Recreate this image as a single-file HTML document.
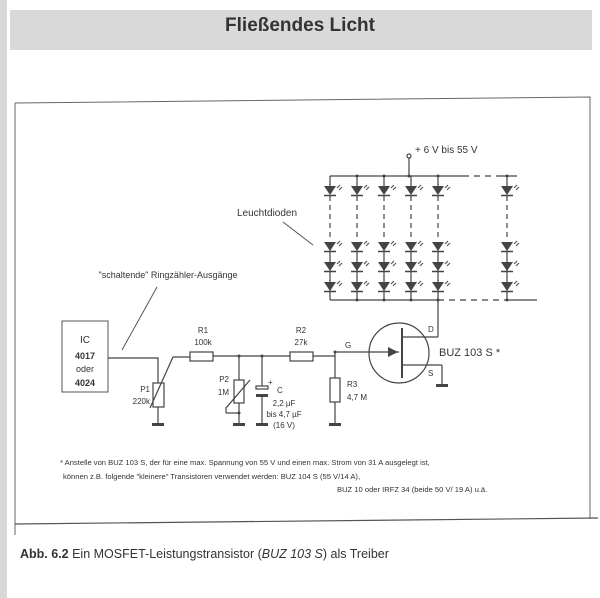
<!DOCTYPE html>
<html><head><meta charset="utf-8"><style>
html,body{margin:0;padding:0;background:#fff;}
svg{display:block;}
text{font-family:"Liberation Sans",sans-serif;fill:#333;}
</style></head><body>
<svg width="600" height="598" viewBox="0 0 600 598" xmlns="http://www.w3.org/2000/svg">
<defs>
<g id="led">
<polygon points="-6,-5 6,-5 0,4" fill="#444"/>
<line x1="-6" y1="4.5" x2="6" y2="4.5" stroke="#444" stroke-width="1.5"/>
<path d="M7,-3 L10,-6 M9,-1 L12,-4" stroke="#555" stroke-width="1.2"/>
</g>
<g id="gnd"><rect x="-6" y="0" width="12" height="3" fill="#444"/></g>
</defs>
<rect x="0" y="0" width="7" height="598" fill="#d8d8d8"/>
<rect x="10" y="10" width="582" height="40" fill="#d9d9d9"/>
<text x="300" y="31" text-anchor="middle" font-size="19" font-weight="bold" style="fill:#333">Fließendes Licht</text>
<path d="M15,103 L590,97 L590,519 M15,103 L15,535" stroke="#666" fill="none" stroke-width="1"/>
<line x1="15" y1="524" x2="598" y2="518" stroke="#555" stroke-width="1.2"/>

<g stroke="#444" stroke-width="1.2" fill="none">
<circle cx="409" cy="156" r="2" fill="#fff"/>
<line x1="409" y1="158" x2="409" y2="176"/>
<line x1="330" y1="176" x2="463" y2="176"/>
<line x1="463" y1="176" x2="500" y2="176" stroke-dasharray="6,5"/>
<line x1="500" y1="176" x2="517" y2="176"/>
<line x1="330" y1="300" x2="438" y2="300"/>
<line x1="438" y1="300" x2="505" y2="300" stroke-dasharray="6,5"/>
<line x1="505" y1="300" x2="537" y2="300"/>
</g>
<g stroke="#444" stroke-width="1.2" fill="none">
<line x1="330" y1="176" x2="330" y2="186"/><line x1="330" y1="196" x2="330" y2="240" stroke-dasharray="5,4"/><line x1="330" y1="250" x2="330" y2="300"/>
<line x1="357" y1="176" x2="357" y2="186"/><line x1="357" y1="196" x2="357" y2="240" stroke-dasharray="5,4"/><line x1="357" y1="250" x2="357" y2="300"/>
<line x1="384" y1="176" x2="384" y2="186"/><line x1="384" y1="196" x2="384" y2="240" stroke-dasharray="5,4"/><line x1="384" y1="250" x2="384" y2="300"/>
<line x1="411" y1="176" x2="411" y2="186"/><line x1="411" y1="196" x2="411" y2="240" stroke-dasharray="5,4"/><line x1="411" y1="250" x2="411" y2="300"/>
<line x1="438" y1="176" x2="438" y2="186"/><line x1="438" y1="196" x2="438" y2="240" stroke-dasharray="5,4"/><line x1="438" y1="250" x2="438" y2="300"/>
<line x1="507" y1="176" x2="507" y2="186"/><line x1="507" y1="196" x2="507" y2="240" stroke-dasharray="5,4"/><line x1="507" y1="250" x2="507" y2="300"/>
</g>
<g>
<use href="#led" x="330" y="191"/><use href="#led" x="357" y="191"/><use href="#led" x="384" y="191"/><use href="#led" x="411" y="191"/><use href="#led" x="438" y="191"/><use href="#led" x="507" y="191"/>
<use href="#led" x="330" y="247"/><use href="#led" x="357" y="247"/><use href="#led" x="384" y="247"/><use href="#led" x="411" y="247"/><use href="#led" x="438" y="247"/><use href="#led" x="507" y="247"/>
<use href="#led" x="330" y="267"/><use href="#led" x="357" y="267"/><use href="#led" x="384" y="267"/><use href="#led" x="411" y="267"/><use href="#led" x="438" y="267"/><use href="#led" x="507" y="267"/>
<use href="#led" x="330" y="287"/><use href="#led" x="357" y="287"/><use href="#led" x="384" y="287"/><use href="#led" x="411" y="287"/><use href="#led" x="438" y="287"/><use href="#led" x="507" y="287"/>
</g>
<g fill="#444">
<circle cx="357" cy="176" r="1.5"/><circle cx="384" cy="176" r="1.5"/><circle cx="409" cy="176" r="1.5"/><circle cx="438" cy="176" r="1.5"/><circle cx="507" cy="176" r="1.5"/>
<circle cx="357" cy="300" r="1.5"/><circle cx="384" cy="300" r="1.5"/><circle cx="411" cy="300" r="1.5"/><circle cx="438" cy="300" r="1.5"/><circle cx="507" cy="300" r="1.5"/>
</g>
<text x="415" y="153" font-size="10">+ 6 V bis 55 V</text>
<text x="237" y="216" font-size="10">Leuchtdioden</text>
<line x1="283" y1="222" x2="313" y2="245" stroke="#555"/>

<g stroke="#444" stroke-width="1.2" fill="none">
<circle cx="399" cy="353" r="30"/>
<line x1="438" y1="300" x2="438" y2="337"/>
<line x1="438" y1="337" x2="402" y2="337"/>
<line x1="402" y1="328" x2="402" y2="378" stroke-width="2"/>
<line x1="402" y1="365" x2="442" y2="365"/>
<line x1="442" y1="365" x2="442" y2="384"/>
<line x1="335" y1="352" x2="399" y2="352"/>
</g>
<polygon points="388,347 398,352 388,357" fill="#444"/>
<use href="#gnd" x="442" y="384"/>
<text x="345" y="348" font-size="8">G</text>
<text x="428" y="332" font-size="8">D</text>
<text x="428" y="376" font-size="8">S</text>
<text x="439" y="356" font-size="11">BUZ 103 S *</text>

<text x="168" y="278" text-anchor="middle" font-size="9">"schaltende" Ringzähler-Ausgänge</text>
<line x1="157" y1="287" x2="122" y2="350" stroke="#555"/>
<rect x="62" y="321" width="46" height="71" fill="none" stroke="#555"/>
<text x="85" y="343" text-anchor="middle" font-size="10">IC</text>
<text x="85" y="359" text-anchor="middle" font-size="9" font-weight="bold">4017</text>
<text x="85" y="372" text-anchor="middle" font-size="9">oder</text>
<text x="85" y="386" text-anchor="middle" font-size="9" font-weight="bold">4024</text>

<g stroke="#444" stroke-width="1.2" fill="none">
<path d="M108,358 L158,358 L158,383"/>
<rect x="153" y="383" width="11" height="24"/>
<line x1="158" y1="407" x2="158" y2="423"/>
<path d="M150,408 L173,357 L190,357"/>
<rect x="190" y="352" width="23" height="9"/>
<line x1="213" y1="356" x2="290" y2="356"/>
<rect x="290" y="352" width="23" height="9"/>
<line x1="313" y1="356" x2="335" y2="356"/>
<line x1="335" y1="352" x2="335" y2="378"/>
<rect x="330" y="378" width="10" height="24"/>
<line x1="335" y1="402" x2="335" y2="423"/>
<line x1="239" y1="356" x2="239" y2="380"/>
<rect x="234" y="380" width="10" height="23"/>
<line x1="239" y1="403" x2="239" y2="423"/>
<path d="M226,413 L226,408 L250,380"/>
<line x1="226" y1="413" x2="239" y2="413"/>
<line x1="262" y1="356" x2="262" y2="386"/>
<rect x="256" y="386" width="12" height="3"/>
<line x1="262" y1="396" x2="262" y2="423"/>
</g>
<rect x="256" y="394" width="12" height="3" fill="#444"/>
<g fill="#444">
<circle cx="239" cy="356" r="1.5"/><circle cx="262" cy="356" r="1.5"/><circle cx="335" cy="352" r="1.5"/><circle cx="239" cy="413" r="1.5"/>
</g>
<use href="#gnd" x="158" y="423"/><use href="#gnd" x="239" y="423"/><use href="#gnd" x="262" y="423"/><use href="#gnd" x="335" y="423"/>

<text x="203" y="333" text-anchor="middle" font-size="8">R1</text>
<text x="203" y="345" text-anchor="middle" font-size="8">100k</text>
<text x="301" y="333" text-anchor="middle" font-size="8">R2</text>
<text x="301" y="345" text-anchor="middle" font-size="8">27k</text>
<text x="150" y="392" text-anchor="end" font-size="8">P1</text>
<text x="150" y="404" text-anchor="end" font-size="8">220k</text>
<text x="229" y="382" text-anchor="end" font-size="8">P2</text>
<text x="229" y="395" text-anchor="end" font-size="8">1M</text>
<text x="268" y="385" font-size="8">+</text>
<text x="277" y="393" font-size="8">C</text>
<text x="284" y="406" text-anchor="middle" font-size="8">2,2 µF</text>
<text x="284" y="417" text-anchor="middle" font-size="8">bis 4,7 µF</text>
<text x="284" y="428" text-anchor="middle" font-size="8">(16 V)</text>
<text x="347" y="387" font-size="8">R3</text>
<text x="347" y="400" font-size="8">4,7 M</text>

<text x="60" y="465" font-size="7.6">* Anstelle von BUZ 103 S, der für eine max. Spannung von 55 V und einen max. Strom von 31 A ausgelegt ist,</text>
<text x="63" y="479" font-size="7.6">können z.B. folgende "kleinere" Transistoren verwendet werden: BUZ 104 S (55 V/14 A),</text>
<text x="337" y="492" font-size="7.6">BUZ 10 oder IRFZ 34 (beide 50 V/ 19 A) u.ä.</text>

<text x="20" y="558" font-size="12.5"><tspan font-weight="bold">Abb. 6.2</tspan> Ein MOSFET-Leistungstransistor (<tspan font-style="italic">BUZ 103 S</tspan>) als Treiber</text>
</svg>
</body></html>
